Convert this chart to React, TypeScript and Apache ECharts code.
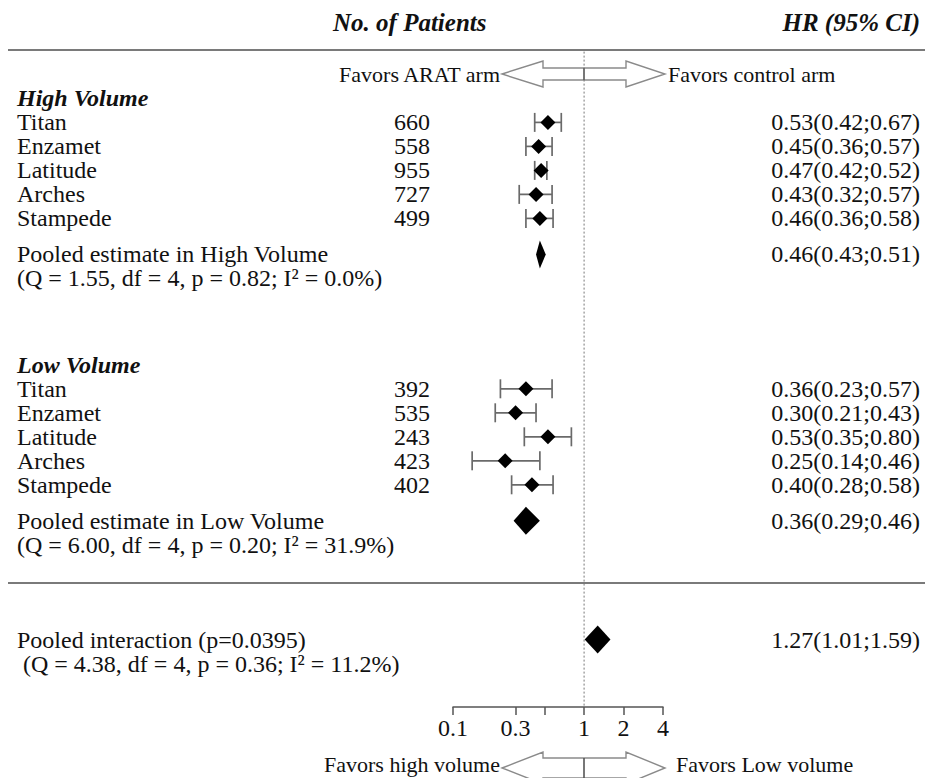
import React, { useEffect, useRef } from "react";
import * as echarts from "echarts";

// ---- data ----
const studies = ["Titan", "Enzamet", "Latitude", "Arches", "Stampede"];

const highN = [660, 558, 955, 727, 499];
const highHR = [0.53, 0.45, 0.47, 0.43, 0.46];
const highLo = [0.42, 0.36, 0.42, 0.32, 0.36];
const highHi = [0.67, 0.57, 0.52, 0.57, 0.58];
const highPooled = [0.46, 0.43, 0.51]; // HR, lower, upper
const highHet = [1.55, 4, 0.82, 0.0]; // Q, df, p, I2

const lowN = [392, 535, 243, 423, 402];
const lowHR = [0.36, 0.3, 0.53, 0.25, 0.4];
const lowLo = [0.23, 0.21, 0.35, 0.14, 0.28];
const lowHi = [0.57, 0.43, 0.8, 0.46, 0.58];
const lowPooled = [0.36, 0.29, 0.46];
const lowHet = [6.0, 4, 0.2, 31.9];

const interactionPooled = [1.27, 1.01, 1.59];
const interactionP = 0.0395;
const interactionHet = [4.38, 4, 0.36, 11.2];

const tickValues = [0.1, 0.3, 0.5, 1, 2, 4];
const tickLabels = ["0.1", "0.3", "1", "2", "4"];
const axisMin = 0.1;
const axisMax = 4;
const refValue = 1;

// ---- layout ----
const W = 925;
const H = 778;
const ROW_PX = 24;
const AXIS_Y = 707;
const FONT = '"Liberation Serif", "Times New Roman", serif';
const FS = 24;
const TEXT = "#111";
const COL_LABEL = 17;
const COL_N = 430;
const COL_HR = 920;

const LOG = (v: number) => Math.log10(v);

type Row = {
  kind: "section" | "study" | "pooled" | "het";
  y: number;
  text: string;
  n?: number;
  hr?: number;
  lo?: number;
  hi?: number;
};

const hetText = (h: number[]) =>
  `(Q = ${h[0].toFixed(2)}, df = ${h[1]}, p = ${h[2].toFixed(2)}; I² = ${h[3].toFixed(1)}%)`;

const rows: Row[] = [];

function addGroup(
  title: string,
  ns: number[],
  hr: number[],
  lo: number[],
  hi: number[],
  pooled: number[],
  het: number[],
  y0: number
) {
  rows.push({ kind: "section", y: y0, text: title });
  studies.forEach((s, i) => {
    rows.push({ kind: "study", y: y0 + 1 + i, text: s, n: ns[i], hr: hr[i], lo: lo[i], hi: hi[i] });
  });
  const yp = y0 + studies.length + 1.5;
  rows.push({
    kind: "pooled",
    y: yp,
    text: `Pooled estimate in ${title}`,
    hr: pooled[0],
    lo: pooled[1],
    hi: pooled[2],
  });
  rows.push({ kind: "het", y: yp + 1, text: hetText(het) });
}

addGroup("High Volume", highN, highHR, highLo, highHi, highPooled, highHet, 4.1);
addGroup("Low Volume", lowN, lowHR, lowLo, lowHi, lowPooled, lowHet, 15.2);
rows.push({
  kind: "pooled",
  y: 26.65,
  text: `Pooled interaction (p=${interactionP})`,
  hr: interactionPooled[0],
  lo: interactionPooled[1],
  hi: interactionPooled[2],
});
rows.push({ kind: "het", y: 27.65, text: " " + hetText(interactionHet) });

const hrText = (r: Row) => `${r.hr!.toFixed(2)}(${r.lo!.toFixed(2)};${r.hi!.toFixed(2)})`;

function txt(x: number, y: number, s: string, align: string, extra: any = {}) {
  return {
    type: "text",
    x,
    y,
    style: {
      text: s,
      fill: TEXT,
      fontFamily: FONT,
      fontSize: FS,
      align,
      textAlign: align,
      verticalAlign: "middle",
      textVerticalAlign: "middle",
      ...extra,
    },
  };
}

function doubleArrow(cy: number, hh: number, bh: number, color: string) {
  const tipL = 502, baseL = 543, mid = 584, baseR = 626, tipR = 665;
  return [
    {
      type: "polygon",
      shape: {
        points: [
          [tipL, cy],
          [baseL, cy - hh],
          [baseL, cy - bh],
          [baseR, cy - bh],
          [baseR, cy - hh],
          [tipR, cy],
          [baseR, cy + hh],
          [baseR, cy + bh],
          [baseL, cy + bh],
          [baseL, cy + hh],
        ],
      },
      style: { fill: "#fff", stroke: color, lineWidth: 1.4 },
    },
    {
      type: "line",
      shape: { x1: mid, y1: cy - bh, x2: mid, y2: cy + bh },
      style: { stroke: "#555", lineWidth: 1.6 },
    },
  ];
}

function plainText(x: number, y: number, s: string, align: string, size: number, extra: any = {}) {
  return {
    type: "text",
    x,
    y,
    style: {
      text: s,
      fill: TEXT,
      fontFamily: FONT,
      fontSize: size,
      align,
      verticalAlign: "middle",
      ...extra,
    },
  };
}

export default function App() {
  const ref = useRef<HTMLDivElement>(null);

  useEffect(() => {
    if (!ref.current) return;
    const chart = echarts.init(ref.current, undefined, { renderer: "svg" });

    const seriesData = rows.map((r, i) => [
      r.hr ? LOG(r.hr) : 0,
      r.lo ? LOG(r.lo) : 0,
      r.hi ? LOG(r.hi) : 0,
      r.y,
      i,
    ]);

    const option: any = {
      animation: false,
      backgroundColor: "#fff",
      grid: { left: 453, right: W - 663, top: 0, bottom: H - AXIS_Y, containLabel: false },
      xAxis: {
        type: "value",
        position: "bottom",
        min: LOG(axisMin),
        max: LOG(axisMax),
        splitLine: { show: false },
        axisLine: { show: true, onZero: false, lineStyle: { color: "#555", width: 1.5 } },
        axisTick: {
          show: true,
          length: 8,
          customValues: tickValues.map(LOG),
          lineStyle: { color: "#555", width: 1.5 },
        },
        axisLabel: {
          customValues: tickLabels.map((t) => LOG(parseFloat(t))),
          margin: 9,
          color: TEXT,
          fontFamily: FONT,
          fontSize: FS,
          formatter: (v: number) => {
            const hit = tickLabels.find((t) => Math.abs(LOG(parseFloat(t)) - v) < 1e-6);
            return hit ?? "";
          },
        },
      },
      yAxis: {
        type: "value",
        min: 0,
        max: AXIS_Y / ROW_PX,
        inverse: true,
        show: false,
      },
      series: [
        {
          type: "line",
          data: [
            [LOG(refValue), 2.15],
            [LOG(refValue), AXIS_Y / ROW_PX],
          ],
          symbol: "none",
          silent: true,
          lineStyle: { color: "#777", width: 1, type: [2, 2] },
          z: 1,
        },
        {
          type: "custom",
          clip: false,
          data: seriesData,
          encode: { x: [0, 1, 2], y: 3 },
          z: 3,
          renderItem: (params: any, api: any) => {
            const r = rows[api.value(4)];
            const yPx = api.coord([0, r.y])[1];
            const children: any[] = [];
            if (r.kind === "section") {
              children.push(
                txt(COL_LABEL, yPx, r.text, "left", { fontWeight: "bold", fontStyle: "italic" })
              );
            } else if (r.kind === "study") {
              const cx = api.coord([api.value(0), r.y])[0];
              const lx = api.coord([api.value(1), r.y])[0];
              const rx = api.coord([api.value(2), r.y])[0];
              const cap = 9.5;
              const ls = { stroke: "#6a6a6a", lineWidth: 1.7 };
              children.push(
                { type: "line", shape: { x1: lx, y1: yPx, x2: rx, y2: yPx }, style: ls },
                { type: "line", shape: { x1: lx, y1: yPx - cap, x2: lx, y2: yPx + cap }, style: ls },
                { type: "line", shape: { x1: rx, y1: yPx - cap, x2: rx, y2: yPx + cap }, style: ls },
                {
                  type: "polygon",
                  shape: {
                    points: [
                      [cx - 7.5, yPx],
                      [cx, yPx - 7.5],
                      [cx + 7.5, yPx],
                      [cx, yPx + 7.5],
                    ],
                  },
                  style: { fill: "#000" },
                },
                txt(COL_LABEL, yPx, r.text, "left"),
                txt(COL_N, yPx, String(r.n), "right"),
                txt(COL_HR, yPx, hrText(r), "right")
              );
            } else if (r.kind === "pooled") {
              const cx = api.coord([api.value(0), r.y])[0];
              const lx = api.coord([api.value(1), r.y])[0];
              const rx = api.coord([api.value(2), r.y])[0];
              const hh = 14;
              children.push(
                {
                  type: "polygon",
                  shape: {
                    points: [
                      [lx, yPx],
                      [cx, yPx - hh],
                      [rx, yPx],
                      [cx, yPx + hh],
                    ],
                  },
                  style: { fill: "#000" },
                },
                txt(COL_LABEL, yPx, r.text, "left"),
                txt(COL_HR, yPx, hrText(r), "right")
              );
            } else {
              children.push(txt(COL_LABEL, yPx, r.text, "left"));
            }
            return { type: "group", children };
          },
        },
      ],
      graphic: [
        plainText(333, 22, "No. of Patients", "left", 25, { fontWeight: "bold", fontStyle: "italic" }),
        plainText(COL_HR, 22, "HR (95% CI)", "right", 25, { fontWeight: "bold", fontStyle: "italic" }),
        { type: "line", shape: { x1: 8, y1: 50, x2: W, y2: 50 }, style: { stroke: "#7a7a7a", lineWidth: 2 } },
        { type: "line", shape: { x1: 8, y1: 583, x2: W, y2: 583 }, style: { stroke: "#7a7a7a", lineWidth: 2 } },
        ...doubleArrow(74, 13, 6, "#8a8a8a"),
        plainText(500, 74, "Favors ARAT arm", "right", 22),
        plainText(668, 74, "Favors control arm", "left", 22),
        ...doubleArrow(768, 16, 10, "#8a8a8a"),
        plainText(500, 764, "Favors high volume", "right", 22),
        plainText(676, 764, "Favors Low volume", "left", 22),
      ],
    };

    chart.setOption(option);
    return () => chart.dispose();
  }, []);

  return (
    <div
      ref={ref}
      style={{ position: "absolute", left: 0, top: 0, width: W, height: H, background: "#fff" }}
    />
  );
}
